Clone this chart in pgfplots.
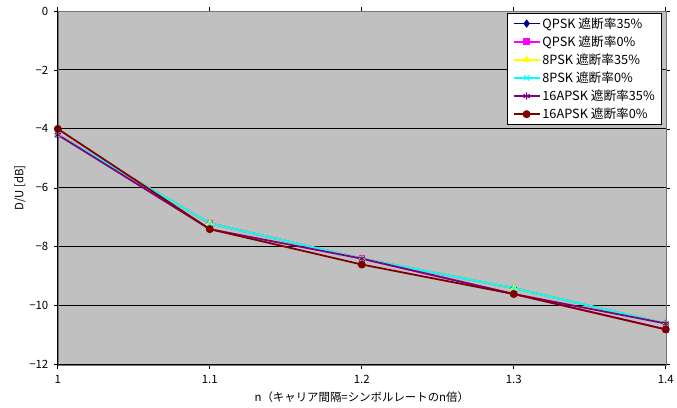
\documentclass[border=0pt]{standalone}
\usepackage{pgfplots}
\pgfplotsset{compat=1.18}
\usepackage{fontspec}
\setmainfont{Noto Sans CJK JP}
\setsansfont{Noto Sans CJK JP}
\definecolor{bggray}{RGB}{192,192,192}
\definecolor{navy}{RGB}{0,0,128}
\definecolor{mag}{RGB}{255,0,255}
\definecolor{yel}{RGB}{255,255,0}
\definecolor{cya}{RGB}{0,255,255}
\definecolor{pur}{RGB}{128,0,128}
\definecolor{brn}{RGB}{128,0,0}
\begin{document}
\begin{tikzpicture}
\begin{axis}[
  name=ax,
  scale only axis,
  width=610bp, height=355bp,
  xmin=1, xmax=1.4, ymin=-12, ymax=0,
  xtick={1,1.1,1.2,1.3,1.4},
  xticklabels={1,1.1,1.2,1.3,1.4},
  ytick={-12,-10,-8,-6,-4,-2,0},
  yticklabels={−12,−10,−8,−6,−4,−2,0},
  /pgf/number format/assume math mode=true,
  axis background/.style={fill=bggray},
  axis line style={draw=black!55},
  ymajorgrids,
  grid style={black, line width=0.9pt},
  tick align=outside,
  tick style={black, line width=0.7pt},
  major tick length=4bp,
  tick label style={font=\fontsize{11.5}{13}\selectfont},
  xticklabel style={yshift=-3bp},
  yticklabel style={xshift=-2bp},
  xlabel={n（キャリア間隔=シンボルレートのn倍）},
  ylabel={D/U [dB]},
  label style={font=\fontsize{11.5}{13}\selectfont},
  xlabel style={yshift=-1bp},
  ylabel style={yshift=-3bp},
  legend style={at={(0.994,0.994)}, anchor=north east, draw=black, line width=0.8pt, fill=white,
    font=\fontsize{12.8}{14}\selectfont, row sep=2bp, inner xsep=5bp, inner ysep=2bp,
    cells={anchor=west}},
  legend image code/.code={
    \draw[mark repeat=2,mark phase=2] plot coordinates {(0bp,0bp) (13bp,0bp) (26bp,0bp)};},
  every axis plot/.append style={line width=1.8pt, mark size=3.6pt},
]
\addplot[navy, mark=diamond*, mark options={fill=navy, line width=0.8pt}] coordinates {(1,-4.2) (1.1,-7.2) (1.2,-8.4) (1.3,-9.4) (1.4,-10.6)};
\addlegendentry{QPSK 遮断率35\%}
\addplot[mag, mark=square*, mark options={fill=mag, scale=0.8, line width=0.8pt}] coordinates {(1,-4.2) (1.1,-7.2) (1.2,-8.4) (1.3,-9.6) (1.4,-10.8)};
\addlegendentry{QPSK 遮断率0\%}
\addplot[yel, mark=triangle*, mark options={fill=yel, line width=0.8pt}] coordinates {(1,-4.2) (1.1,-7.2) (1.2,-8.4) (1.3,-9.4) (1.4,-10.6)};
\addlegendentry{8PSK 遮断率35\%}
\addplot[cya, mark=x, mark options={line width=1pt}] coordinates {(1,-4.2) (1.1,-7.2) (1.2,-8.4) (1.3,-9.4) (1.4,-10.6)};
\addlegendentry{8PSK 遮断率0\%}
\addplot[pur, mark=asterisk, mark options={line width=1pt}] coordinates {(1,-4.2) (1.1,-7.4) (1.2,-8.4) (1.3,-9.6) (1.4,-10.6)};
\addlegendentry{16APSK 遮断率35\%}
\addplot[brn, mark=*, mark options={fill=brn, line width=0.8pt}] coordinates {(1,-4.0) (1.1,-7.4) (1.2,-8.6) (1.3,-9.6) (1.4,-10.8)};
\addlegendentry{16APSK 遮断率0\%}
\end{axis}
\draw[black, line width=0.9pt] (ax.south west) -- (ax.north west);
\draw[black, line width=0.9pt] (ax.south west) -- (ax.south east);
\path (ax.south west) ++(-58bp,-43bp) coordinate (bl);
\path (ax.north east) ++(9bp,11bp) coordinate (tr);
\path (bl) rectangle (tr);
\end{tikzpicture}
\end{document}
